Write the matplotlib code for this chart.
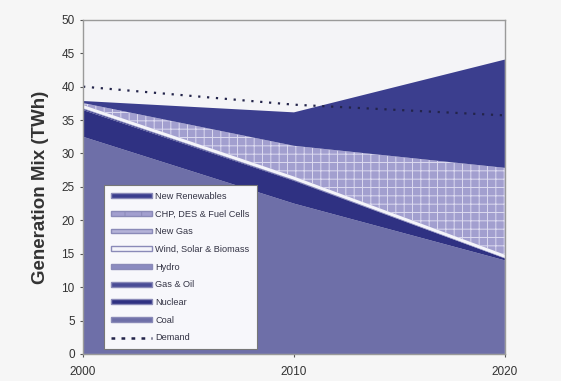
import matplotlib
matplotlib.use("Agg")
import matplotlib.pyplot as plt
from matplotlib.patches import Patch
from matplotlib.lines import Line2D

plt.rcParams['font.family'] = ['Liberation Sans', 'DejaVu Sans']
plt.rcParams['hatch.linewidth'] = 0.7

years = [2000, 2010, 2020]
coal = [32.5, 22.5, 14.0]
nuclear = [4.0, 3.4, 0.3]
gas_oil = [0.2, 0.1, 0.0]
hydro = [0.1, 0.1, 0.1]
wind_solar_biomass = [0.45, 0.45, 0.45]
new_gas = [0.0, 0.0, 0.0]
chp = [0.3, 4.6, 13.0]
new_renewables = [0.3, 5.0, 16.2]
demand = [40.0, 37.3, 35.7]

labels = ["New Renewables", "CHP, DES & Fuel Cells", "New Gas",
          "Wind, Solar & Biomass", "Hydro", "Gas & Oil", "Nuclear", "Coal"]

fig = plt.figure(figsize=(5.61, 3.81), dpi=100)
fig.patch.set_facecolor('#f6f6f6')
ax = fig.add_axes([0.148, 0.071, 0.752, 0.877])
ax.set_facecolor('#f4f4f7')

c_coal = '#6e6fa8'
c_nuc = '#2f3182'
c_gas = '#4a4c96'
c_hydro = '#8b8bc0'
c_wind = '#f4f4fa'
c_newgas = '#b4b2d8'
c_chp = '#a29fcf'
c_ren = '#3b3e8e'

polys = ax.stackplot(years, coal, nuclear, gas_oil, hydro, wind_solar_biomass,
                     new_gas, chp, new_renewables,
                     colors=[c_coal, c_nuc, c_gas, c_hydro, c_wind, c_newgas, c_chp, c_ren],
                     linewidth=0)
polys[6].set_hatch('++')
polys[6].set_edgecolor('#dcdaf0')
polys[6].set_linewidth(0)

ax.plot(years, demand, linestyle=(0, (1.0, 3.0)), color='#23244a', linewidth=1.6)

ax.set_xlim(2000, 2020)
ax.set_ylim(0, 50)
ax.set_yticks(range(0, 51, 5))
ax.set_xticks(years)
ax.set_xticklabels([str(y) for y in years])
ax.tick_params(axis='both', labelsize=8.5, length=2.5, width=0.8, colors='#555555')
ax.tick_params(axis='x', pad=6)
for lab in ax.get_xticklabels() + ax.get_yticklabels():
    lab.set_color('#333333')
for s in ax.spines.values():
    s.set_color('#9a9a9a')
    s.set_linewidth(1.0)

ax.set_ylabel("Generation Mix (TWh)", fontsize=13.5, fontweight='bold', color='#333333', labelpad=9)

handles = [
    Patch(facecolor=c_ren, edgecolor='#8a8ab8'),
    Patch(facecolor=c_chp, edgecolor='#8a8ab8', hatch='+'),
    Patch(facecolor=c_newgas, edgecolor='#8a8ab8'),
    Patch(facecolor=c_wind, edgecolor='#8a8ab8'),
    Patch(facecolor=c_hydro, edgecolor='#8a8ab8'),
    Patch(facecolor=c_gas, edgecolor='#8a8ab8'),
    Patch(facecolor=c_nuc, edgecolor='#8a8ab8'),
    Patch(facecolor=c_coal, edgecolor='#8a8ab8'),
    Line2D([0], [0], linestyle=(0, (1.5, 2.5)), color='#23244a', linewidth=1.8),
]
leg = ax.legend(handles, labels + ["Demand"], loc='lower left',
                bbox_to_anchor=(0.04, 0.0), fontsize=6.6, frameon=True,
                fancybox=False, edgecolor='#777777', framealpha=1.0,
                facecolor='#f7f7fb', handlelength=4.4, handleheight=0.45,
                labelspacing=0.95, borderpad=0.75, handletextpad=0.4)
leg.get_frame().set_linewidth(0.8)
for t in leg.get_texts():
    t.set_color('#333344')

fig.savefig("out.png", dpi=100, facecolor=fig.get_facecolor())
